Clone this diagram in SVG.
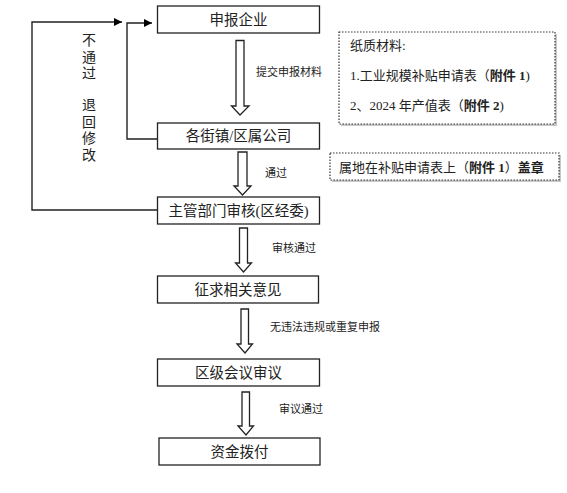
<svg xmlns="http://www.w3.org/2000/svg" width="567" height="493" viewBox="0 0 567 493">
<defs>
<marker id="ah" viewBox="0 0 10 10" refX="10" refY="5" markerWidth="8" markerHeight="8" markerUnits="userSpaceOnUse" orient="auto"><path d="M0,0 L10,5 L0,10 Z" fill="#000"/></marker>
</defs>
<style>
.box{fill:#fff;stroke:#222;stroke-width:1.3}
.bt{font-family:"Liberation Serif","Noto Sans CJK SC",serif;font-size:14.5px;fill:#222;text-anchor:middle;dominant-baseline:central}
.lt{font-family:"Liberation Sans","Noto Sans CJK SC",sans-serif;font-size:11px;fill:#222;dominant-baseline:central}
.nt{font-family:"Liberation Serif","Noto Sans CJK SC",serif;font-size:13px;fill:#222;dominant-baseline:central}
.ha{fill:#fff;stroke:#222;stroke-width:1.3}
.ln{fill:none;stroke:#222;stroke-width:1.4}
.dash{fill:#fff;stroke:#333;stroke-width:1.2;stroke-dasharray:1.5 1.5}
.sh{fill:#c8c8c8}
</style>
<rect width="567" height="493" fill="#fff"/>
<g id="connectors">
<polyline class="ln" points="157,210 32,210 32,22 122,22" marker-end="url(#ah)"/>
<polyline class="ln" points="157,139 127,139 127,23 152,23" marker-end="url(#ah)"/>
<path class="ha" d="M236,40.5 H244 V106 H249 L240,115 L231.5,106 H236 Z"/>
<path class="ha" d="M238,152 H247 V186 H251 L242.5,195 L234,186 H238 Z"/>
<path class="ha" d="M239.5,228 H247.5 V263 H251.5 L243.5,272 L235.5,263 H239.5 Z"/>
<path class="ha" d="M241,309 H248.5 V344 H252.5 L245,353 L237,344 H241 Z"/>
<path class="ha" d="M242,392 H249.5 V426 H253.5 L246,435 L238,426 H242 Z"/>
<text class="lt" x="256" y="72">提交申报材料</text>
<text class="lt" x="265" y="173">通过</text>
<text class="lt" x="272" y="248">审核通过</text>
<text class="lt" x="270" y="327">无违法违规或重复申报</text>
<text class="lt" x="279" y="409">审议通过</text>
<g class="bt" style="font-size:14px">
<text x="89" y="40">不</text>
<text x="89" y="57">通</text>
<text x="89" y="73">过</text>
<text x="89" y="105">退</text>
<text x="89" y="122">回</text>
<text x="89" y="138">修</text>
<text x="89" y="155">改</text>
</g>
</g>
<g id="n1"><rect class="box" x="157.5" y="6" width="162" height="27"/><text class="bt" x="238.5" y="19.5">申报企业</text></g>
<g id="n2"><rect class="box" x="157.5" y="123" width="162" height="26"/><text class="bt" x="238.5" y="136">各街镇/区属公司</text></g>
<g id="n3"><rect class="box" x="157.5" y="197" width="162" height="27"/><text class="bt" x="238.5" y="210.5">主管部门审核(区经委)</text></g>
<g id="n4"><rect class="box" x="157.5" y="276" width="161" height="27"/><text class="bt" x="238" y="289.5">征求相关意见</text></g>
<g id="n5"><rect class="box" x="157.5" y="359" width="162" height="27"/><text class="bt" x="238.5" y="372.5">区级会议审议</text></g>
<g id="n6"><rect class="box" x="159" y="438" width="161" height="27"/><text class="bt" x="239.5" y="451.5">资金拨付</text></g>
<g id="note1">
<rect class="sh" x="341" y="34" width="216" height="92"/>
<rect class="dash" x="339" y="32" width="216" height="92"/>
<text class="nt" x="350" y="45">纸质材料:</text>
<text class="nt" x="350" y="75">1.工业规模补贴申请表（<tspan font-weight="bold">附件 1</tspan>)</text>
<text class="nt" x="350" y="105">2、2024 年产值表（<tspan font-weight="bold">附件 2</tspan>)</text>
</g>
<g id="note2">
<rect class="sh" x="332" y="155" width="229" height="27"/>
<rect class="dash" x="330" y="153" width="229" height="27"/>
<text class="nt" x="339" y="167">属地在补贴申请表上（<tspan font-weight="bold">附件 1</tspan>）<tspan font-weight="bold">盖章</tspan></text>
</g>
</svg>
